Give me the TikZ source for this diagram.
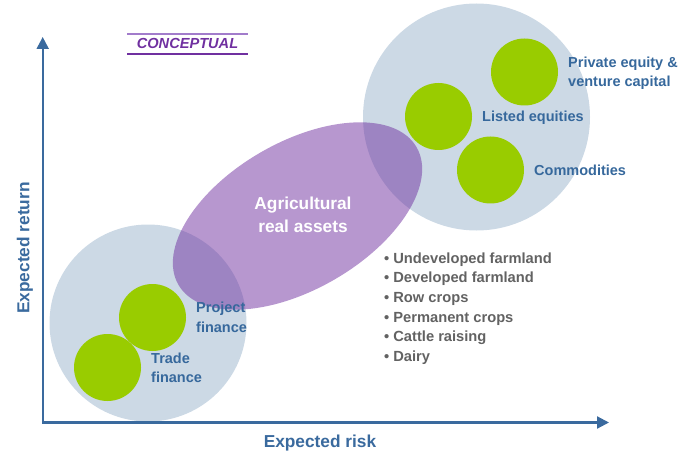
\documentclass[tikz,border=0pt]{standalone}
\usepackage{fontspec}
\setmainfont{Liberation Sans}
\usetikzlibrary{arrows.meta,shapes.geometric}
\definecolor{bluecirc}{HTML}{CCD9E5}
\definecolor{greenc}{HTML}{99CC00}
\definecolor{purp}{HTML}{7030A0}
\definecolor{purplight}{HTML}{A27CCB}
\definecolor{axisblue}{HTML}{3A6A9E}
\definecolor{labelblue}{HTML}{36689C}
\definecolor{listgray}{HTML}{626262}
\newcommand{\bul}{•\hspace{4pt}}
\begin{document}
\begin{tikzpicture}[x=1pt,y=-1pt,
  bigcirc/.style={circle, fill=bluecirc, inner sep=0pt, minimum size=#1},
  greencirc/.style={circle, fill=greenc, inner sep=0pt, minimum size=67pt},
  lbl/.style={text=labelblue, font=\fontsize{14.5}{19.5}\selectfont\bfseries, inner sep=0pt, align=left},
  axislbl/.style={text=axisblue, font=\fontsize{17.3}{21}\selectfont\bfseries, inner sep=0pt},
  axisline/.style={draw=axisblue, line width=2.2pt, line join=miter,
    {Triangle[length=12pt,width=12pt]}-{Triangle[length=12pt,width=12pt]}}
]
\useasboundingbox (0,0) rectangle (692,454);

% large grey-blue circles
\node[bigcirc=197pt] (lowcirc) at (148,323) {};
\node[bigcirc=227pt] (upcirc) at (476.5,117) {};

% purple ellipse
\node[ellipse, fill=purp, fill opacity=0.5, inner sep=0pt,
      minimum width=275pt, minimum height=147pt, rotate=30] (agri) at (297.5,216) {};

% green circles
\node[greencirc] (proj) at (152.5,317.5) {};
\node[greencirc] (trade) at (107.5,367.5) {};
\node[greencirc] (pe) at (524.5,72) {};
\node[greencirc] (listed) at (438.5,116.5) {};
\node[greencirc] (comm) at (490.5,170) {};

% axes
\coordinate (origin) at (42.7,422.5);
\coordinate (ytip) at (42.7,37);
\coordinate (xtip) at (609,422.5);
\draw[axisline] (ytip) -- (origin) -- (xtip);

% axis labels
\node[axislbl, rotate=90] (yl) at (25,248) {Expected return};
\node[axislbl] (xl) at (320,443.5) {Expected risk};

% conceptual tag
\draw[purplight, line width=1.6pt] (127,34) -- (248,34);
\draw[purp, line width=1.6pt] (127,54) -- (248,54);
\node[text=purp, font=\fontsize{14.6}{17}\selectfont\bfseries\itshape, inner sep=0pt] (concept) at (187.5,43.5) {CONCEPTUAL};

% labels
\node[lbl, anchor=west] (tradel) at (151,368) {Trade\\finance};
\node[lbl, anchor=west] (projl) at (196,317.5) {Project\\finance};
\node[lbl, anchor=west] (pel) at (568,73.5) {Private equity \&\\venture capital};
\node[lbl, anchor=west] (listedl) at (482,118) {Listed equities};
\node[lbl, anchor=west] (comml) at (534,170.5) {Commodities};

\node[text=white, font=\fontsize{17.3}{23.4}\selectfont\bfseries, align=center, inner sep=0pt] (agril) at (303,215) {Agricultural\\real assets};

\node[text=listgray, font=\fontsize{14.7}{19.6}\selectfont\bfseries, align=left, inner sep=0pt, anchor=west] (list) at (384,308.5)
 {\bul Undeveloped farmland\\\bul Developed farmland\\\bul Row crops\\\bul Permanent crops\\\bul Cattle raising\\\bul Dairy};
\end{tikzpicture}
\end{document}
